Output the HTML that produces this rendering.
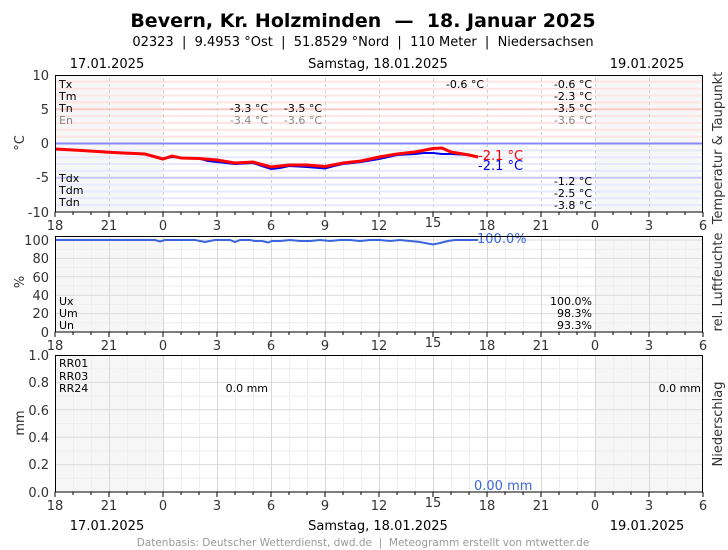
<!DOCTYPE html>
<html><head><meta charset="utf-8"><style>
body{margin:0;background:#fff;width:728px;height:550px;overflow:hidden}
svg{display:block;font-family:"DejaVu Sans","Liberation Sans",sans-serif}
text{white-space:pre}
</style></head><body>
<svg width="728" height="550" viewBox="0 0 728 550" xmlns="http://www.w3.org/2000/svg">
<defs>
<pattern id="hr" x="55" y="0" width="18" height="550" patternUnits="userSpaceOnUse"><line x1="0.5" y1="0" x2="0.5" y2="550" stroke="#eeeeee" stroke-width="1"/></pattern>
<pattern id="hr3" x="55" y="0" width="54" height="550" patternUnits="userSpaceOnUse"><line x1="0.5" y1="0" x2="0.5" y2="550" stroke="#d8d8d8" stroke-width="1"/></pattern>
<pattern id="hr3d" x="55" y="0" width="54" height="6" patternUnits="userSpaceOnUse"><line x1="0.5" y1="0" x2="0.5" y2="3" stroke="#d0d0d0" stroke-width="1"/></pattern>
</defs>
<text x="363" y="27" text-anchor="middle" font-size="19" font-weight="bold" fill="#000" xml:space="preserve">Bevern, Kr. Holzminden  —  18. Januar 2025</text>
<text x="363" y="46" text-anchor="middle" font-size="13" fill="#000" xml:space="preserve">02323  |  9.4953 °Ost  |  51.8529 °Nord  |  110 Meter  |  Niedersachsen</text>
<g font-size="13" fill="#000">
<text x="107" y="68" text-anchor="middle">17.01.2025</text>
<text x="378" y="68" text-anchor="middle">Samstag, 18.01.2025</text>
<text x="647" y="68" text-anchor="middle">19.01.2025</text>
<text x="107" y="530" text-anchor="middle">17.01.2025</text>
<text x="378" y="530" text-anchor="middle">Samstag, 18.01.2025</text>
<text x="647" y="530" text-anchor="middle">19.01.2025</text>
</g>
<text x="363" y="546" text-anchor="middle" font-size="10.5" fill="#999" xml:space="preserve">Datenbasis: Deutscher Wetterdienst, dwd.de  |  Meteogramm erstellt von mtwetter.de</text>

<!-- TEMP PANEL -->
<rect x="55" y="75" width="108" height="137" fill="#f6f6f6"/>
<rect x="595" y="75" width="108" height="137" fill="#f6f6f6"/>
<g stroke="#ffe4e4" stroke-width="2">
<line x1="55" x2="703" y1="136.6" y2="136.6"/><line x1="55" x2="703" y1="129.8" y2="129.8"/><line x1="55" x2="703" y1="123" y2="123"/><line x1="55" x2="703" y1="116.1" y2="116.1"/><line x1="55" x2="703" y1="102.4" y2="102.4"/><line x1="55" x2="703" y1="95.5" y2="95.5"/><line x1="55" x2="703" y1="88.7" y2="88.7"/><line x1="55" x2="703" y1="81.8" y2="81.8"/>
</g>
<line x1="55" x2="703" y1="109.2" y2="109.2" stroke="#ffc8c8" stroke-width="2"/>
<g stroke="#e8e8ff" stroke-width="2">
<line x1="55" x2="703" y1="150.4" y2="150.4"/><line x1="55" x2="703" y1="157.2" y2="157.2"/><line x1="55" x2="703" y1="164" y2="164"/><line x1="55" x2="703" y1="170.9" y2="170.9"/><line x1="55" x2="703" y1="184.6" y2="184.6"/><line x1="55" x2="703" y1="191.5" y2="191.5"/><line x1="55" x2="703" y1="198.3" y2="198.3"/><line x1="55" x2="703" y1="205.1" y2="205.1"/>
</g>
<line x1="55" x2="703" y1="177.8" y2="177.8" stroke="#c8c8ff" stroke-width="2"/>
<rect x="55" y="75" width="648" height="137" fill="url(#hr3d)"/>
<line x1="55" x2="703" y1="143.5" y2="143.5" stroke="#8888ff" stroke-width="2"/>
<polyline fill="none" stroke="#0000ee" stroke-width="2" points="55,149 82,150.5 109,152.3 145,154 163,159 172,157 181,158 199,158.5 208,161 217,162 235,164 253,163 262,166 271,169 280,168 289,166 307,167 325,168.5 334,166 343,164 361,162 379,159 397,155 415,154 424,153 433,153 442,154 451,154 469,155 478,157"/>
<polyline fill="none" stroke="#ff0000" stroke-width="3" points="55,149 82,150.5 109,152.3 145,154 163,159 172,156 181,158 199,158.5 217,160 235,163 253,162 271,167 289,165 307,165 325,166.5 343,163 361,161 379,157 397,154 415,152 433,148.5 442,148 451,152 469,155 478,157"/>
<text x="478" y="160" font-size="13" fill="#ff0000">-2.1 °C</text>
<text x="478" y="170" font-size="13" fill="#0000ee">-2.1 °C</text>
<g font-size="11" fill="#000">
<text x="59" y="88">Tx</text><text x="59" y="100">Tm</text><text x="59" y="112">Tn</text><text x="59" y="124" fill="#888">En</text>
<text x="59" y="182">Tdx</text><text x="59" y="194">Tdm</text><text x="59" y="206">Tdn</text>
<g text-anchor="end">
<text x="268" y="112">-3.3 °C</text><text x="322" y="112">-3.5 °C</text>
<text x="268" y="124" fill="#888">-3.4 °C</text><text x="322" y="124" fill="#888">-3.6 °C</text>
<text x="484" y="88">-0.6 °C</text>
<text x="592" y="88">-0.6 °C</text><text x="592" y="100">-2.3 °C</text><text x="592" y="112">-3.5 °C</text><text x="592" y="124" fill="#888">-3.6 °C</text>
<text x="592" y="185">-1.2 °C</text><text x="592" y="197">-2.5 °C</text><text x="592" y="209">-3.8 °C</text>
</g></g>
<rect x="55.5" y="75.5" width="647" height="136.5" fill="none" stroke="#000" stroke-width="1"/>

<!-- HUM PANEL -->
<rect x="55" y="236" width="108" height="96" fill="#f6f6f6"/>
<rect x="595" y="236" width="108" height="96" fill="#f6f6f6"/>
<rect x="55" y="236" width="648" height="96" fill="url(#hr)"/>
<g stroke="#eeeeee"><line x1="55" x2="703" y1="322.8" y2="322.8"/><line x1="55" x2="703" y1="304.4" y2="304.4"/><line x1="55" x2="703" y1="286" y2="286"/><line x1="55" x2="703" y1="267.6" y2="267.6"/><line x1="55" x2="703" y1="249.2" y2="249.2"/></g>
<g stroke="#dcdcdc"><line x1="55" x2="703" y1="313.6" y2="313.6"/><line x1="55" x2="703" y1="295.2" y2="295.2"/><line x1="55" x2="703" y1="276.8" y2="276.8"/><line x1="55" x2="703" y1="258.4" y2="258.4"/><line x1="55" x2="703" y1="240" y2="240"/></g>
<rect x="55" y="236" width="648" height="96" fill="url(#hr3)"/>
<polyline fill="none" stroke="#3b66dd" stroke-width="2" points="55,240 155,240 160,241.5 165,240 195,240 200,241 205,242 210,241 215,240 230,240 235,242 240,240 250,240 255,241 262,241 268,242.5 272,241 280,241 290,240 300,241 310,241 320,240 330,241 340,240 350,240 360,241 370,240 380,240 390,241 400,240 410,241 420,242 425,243 433,244.5 440,243 448,241 455,240 478,240"/>
<text x="477" y="243" font-size="13" fill="#3b66dd">100.0%</text>
<g font-size="11" fill="#000">
<text x="59" y="305">Ux</text><text x="59" y="317">Um</text><text x="59" y="329">Un</text>
<g text-anchor="end"><text x="592" y="305">100.0%</text><text x="592" y="317">98.3%</text><text x="592" y="329">93.3%</text></g>
</g>
<rect x="55.5" y="236.5" width="647" height="95.5" fill="none" stroke="#000"/>

<!-- RAIN PANEL -->
<rect x="55" y="355" width="108" height="137" fill="#f6f6f6"/>
<rect x="595" y="355" width="108" height="137" fill="#f6f6f6"/>
<rect x="55" y="355" width="648" height="137" fill="url(#hr)"/>
<g stroke="#eeeeee"><line x1="55" x2="703" y1="478.3" y2="478.3"/><line x1="55" x2="703" y1="450.9" y2="450.9"/><line x1="55" x2="703" y1="423.5" y2="423.5"/><line x1="55" x2="703" y1="396.1" y2="396.1"/><line x1="55" x2="703" y1="368.7" y2="368.7"/></g>
<g stroke="#dcdcdc"><line x1="55" x2="703" y1="464.6" y2="464.6"/><line x1="55" x2="703" y1="437.2" y2="437.2"/><line x1="55" x2="703" y1="409.8" y2="409.8"/><line x1="55" x2="703" y1="382.4" y2="382.4"/></g>
<rect x="55" y="355" width="648" height="137" fill="url(#hr3)"/>
<g font-size="11" fill="#000">
<text x="59" y="367">RR01</text><text x="59" y="380">RR03</text><text x="59" y="392">RR24</text>
<text x="268" y="392" text-anchor="end">0.0 mm</text><text x="701" y="392" text-anchor="end">0.0 mm</text>
</g>
<text x="474" y="490" font-size="13" fill="#3b66dd">0.00 mm</text>
<rect x="55.5" y="355.5" width="647" height="136.5" fill="none" stroke="#000"/>

<!-- ticks -->
<g stroke="#000">
<path d="M55,212v5M73,212v3M91,212v3M109,212v5M127,212v3M145,212v3M163,212v5M181,212v3M199,212v3M217,212v5M235,212v3M253,212v3M271,212v5M289,212v3M307,212v3M325,212v5M343,212v3M361,212v3M379,212v5M397,212v3M415,212v3M433,212v5M451,212v3M469,212v3M487,212v5M505,212v3M523,212v3M541,212v5M559,212v3M577,212v3M595,212v5M613,212v3M631,212v3M649,212v5M667,212v3M685,212v3M703,212v5"/>
<path d="M55,332v5M73,332v3M91,332v3M109,332v5M127,332v3M145,332v3M163,332v5M181,332v3M199,332v3M217,332v5M235,332v3M253,332v3M271,332v5M289,332v3M307,332v3M325,332v5M343,332v3M361,332v3M379,332v5M397,332v3M415,332v3M433,332v5M451,332v3M469,332v3M487,332v5M505,332v3M523,332v3M541,332v5M559,332v3M577,332v3M595,332v5M613,332v3M631,332v3M649,332v5M667,332v3M685,332v3M703,332v5"/>
<path d="M55,492v5M73,492v3M91,492v3M109,492v5M127,492v3M145,492v3M163,492v5M181,492v3M199,492v3M217,492v5M235,492v3M253,492v3M271,492v5M289,492v3M307,492v3M325,492v5M343,492v3M361,492v3M379,492v5M397,492v3M415,492v3M433,492v5M451,492v3M469,492v3M487,492v5M505,492v3M523,492v3M541,492v5M559,492v3M577,492v3M595,492v5M613,492v3M631,492v3M649,492v5M667,492v3M685,492v3M703,492v5"/>
</g>
<g font-size="13" fill="#333" text-anchor="middle">
<g transform="translate(0,230)"><text x="55">18</text><text x="109">21</text><text x="163">0</text><text x="217">3</text><text x="271">6</text><text x="325">9</text><text x="379">12</text><text x="433" y="-3">15</text><text x="487">18</text><text x="541">21</text><text x="595">0</text><text x="649">3</text><text x="703">6</text></g>
<g transform="translate(0,350)"><text x="55">18</text><text x="109">21</text><text x="163">0</text><text x="217">3</text><text x="271">6</text><text x="325">9</text><text x="379">12</text><text x="433" y="-3">15</text><text x="487">18</text><text x="541">21</text><text x="595">0</text><text x="649">3</text><text x="703">6</text></g>
<g transform="translate(0,510)"><text x="55">18</text><text x="109">21</text><text x="163">0</text><text x="217">3</text><text x="271">6</text><text x="325">9</text><text x="379">12</text><text x="433" y="-3">15</text><text x="487">18</text><text x="541">21</text><text x="595">0</text><text x="649">3</text><text x="703">6</text></g>
</g>
<g font-size="13" fill="#333" text-anchor="end">
<text x="49" y="80">10</text><text x="49" y="114">5</text><text x="49" y="148">0</text><text x="49" y="182">-5</text><text x="49" y="217">-10</text>
<text x="49" y="245">100</text><text x="49" y="263">80</text><text x="49" y="282">60</text><text x="49" y="300">40</text><text x="49" y="318">20</text><text x="49" y="337">0</text>
<text x="49" y="360">1.0</text><text x="49" y="387">0.8</text><text x="49" y="415">0.6</text><text x="49" y="442">0.4</text><text x="49" y="469">0.2</text><text x="49" y="497">0.0</text>
</g>
<g font-size="13" fill="#333" text-anchor="middle">
<text transform="translate(24,143) rotate(-90)">°C</text>
<text transform="translate(24,282) rotate(-90)">%</text>
<text transform="translate(24,423) rotate(-90)">mm</text>
<text transform="translate(722,148) rotate(-90)">Temperatur &amp; Taupunkt</text>
<text transform="translate(722,282) rotate(-90)">rel. Luftfeuchte</text>
<text transform="translate(722,424) rotate(-90)">Niederschlag</text>
</g>
</svg>
</body></html>
